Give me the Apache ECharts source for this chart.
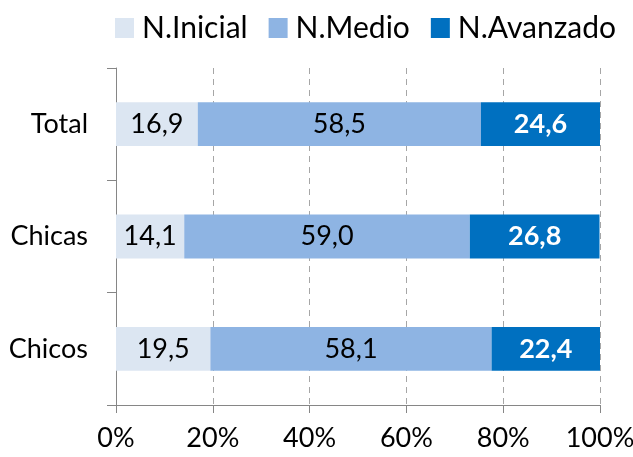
<!DOCTYPE html>
<html>
<head>
    <meta charset="utf-8">
    <title>Niveles</title>
    <script src="https://cdn.jsdelivr.net/npm/echarts@6/dist/echarts.min.js"></script>
    <style>
        html, body { margin: 0; padding: 0; background: #fff; }
        #chart1 { width: 633px; height: 457px; }
    </style>
</head>
<body>
<div id="chart1"></div>
<script type="text/javascript">
    // categorias (de abajo hacia arriba)
    var categorias = ['Chicos', 'Chicas', 'Total'];
    var inicial = [19.5, 14.1, 16.9];
    var medio = [58.1, 59.0, 58.5];
    var avanzado = [22.4, 26.8, 24.6];
    var ticksX = [0, 20, 40, 60, 80, 100];

    var fuente = 'Lato, "Open Sans", sans-serif';
    var tam = 27;

    // formato con coma decimal
    function coma(p) {
        return p.value.toFixed(1).replace('.', ',');
    }

    var myChart1 = echarts.init(document.getElementById('chart1'));
    var options = {
        animation: false,
        textStyle: { fontFamily: fuente },
        legend: {
            top: 8,
            left: 110,
            itemWidth: 19,
            itemHeight: 20,
            itemGap: 21,
            icon: 'rect',
            textStyle: { fontSize: 30, color: '#000', fontFamily: fuente, padding: [0, 0, 0, 3] },
            data: ['N.Inicial', 'N.Medio', 'N.Avanzado']
        },
        grid: { left: 116, right: 33, top: 68, bottom: 52, containLabel: false, outerBoundsMode: 'none' },
        xAxis: {
            type: 'value',
            min: ticksX[0],
            max: ticksX[ticksX.length - 1],
            interval: 20,
            axisLine: { show: true, lineStyle: { color: '#868686' } },
            axisTick: { show: true, length: 8, lineStyle: { color: '#868686' } },
            axisLabel: {
                margin: 20, fontSize: tam, color: '#000', fontFamily: fuente,
                formatter: '{value}%'
            },
            splitLine: { show: true, lineStyle: { color: '#a6a6a6', type: [6, 5] } }
        },
        yAxis: {
            type: 'category',
            data: categorias,
            axisLine: { show: true, lineStyle: { color: '#868686' } },
            axisTick: { show: true, length: 9, lineStyle: { color: '#868686' } },
            axisLabel: { margin: 28, fontSize: tam, color: '#000', fontFamily: fuente },
            splitLine: { show: false }
        },
        series: [{
            name: 'N.Inicial',
            type: 'bar',
            stack: 'total',
            barWidth: '39%',
            data: inicial,
            itemStyle: { color: '#DCE6F2' },
            label: { show: true, position: 'inside', formatter: coma, fontSize: tam, color: '#000', fontFamily: fuente }
        }, {
            name: 'N.Medio',
            type: 'bar',
            stack: 'total',
            data: medio,
            itemStyle: { color: '#8EB4E3' },
            label: { show: true, position: 'inside', formatter: coma, fontSize: tam, color: '#000', fontFamily: fuente }
        }, {
            name: 'N.Avanzado',
            type: 'bar',
            stack: 'total',
            data: avanzado,
            itemStyle: { color: '#0070C0' },
            label: { show: true, position: 'inside', formatter: coma, fontSize: tam, fontWeight: 'bold', color: '#fff', fontFamily: fuente }
        }]
    };
    myChart1.setOption(options);
</script>
</body>
</html>
